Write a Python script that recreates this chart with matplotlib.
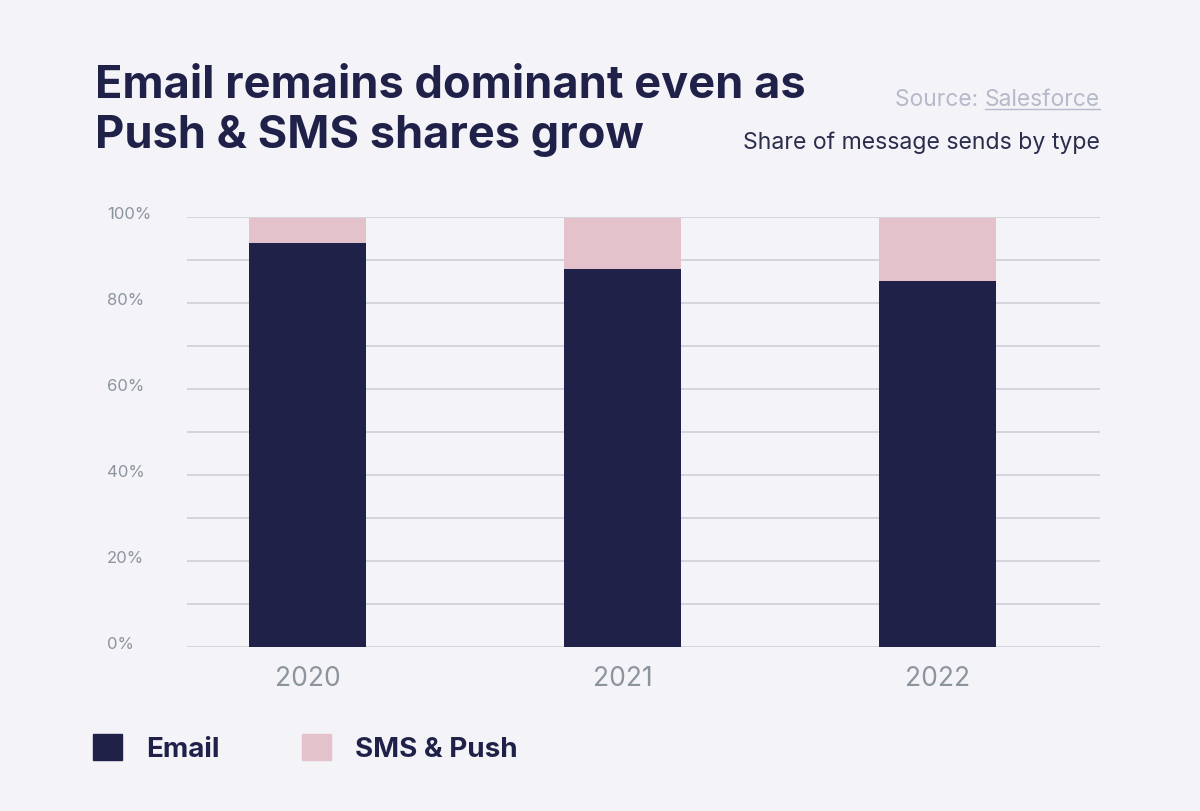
import matplotlib
matplotlib.use("Agg")
import matplotlib.pyplot as plt
from matplotlib.patches import Patch
from matplotlib.lines import Line2D
from matplotlib.transforms import ScaledTranslation

years = ["2020", "2021", "2022"]
email = [94.0, 88.0, 85.1]
sms_push = [5.8, 11.8, 14.7]
y_ticks = [0, 20, 40, 60, 80, 100]
y_tick_labels = ["0%", "20%", "40%", "60%", "80%", "100%"]

bg = "#f4f3f8"
navy = "#1f2149"
pink = "#e3c2cc"
grid_col = "#d1d2d9"
tick_col = "#8c949e"
src_col = "#b6b9c9"

plt.rcParams["font.family"] = ["Inter", "DejaVu Sans"]

fig = plt.figure(figsize=(12, 8.12), dpi=100, facecolor=bg)
ax = fig.add_axes([187 / 1200, 1 - 648 / 812, 913 / 1200, 430 / 812])
ax.set_facecolor(bg)

x = range(len(years))
ax.bar(x, email, width=0.372, color=navy, zorder=3)
ax.bar(x, sms_push, width=0.372, bottom=email, color=pink, zorder=3)

ax.set_xlim(-0.383, 2.516)
ax.set_ylim(0, 100)

ax.set_yticks(range(0, 101, 10), minor=True)
ax.set_yticks(y_ticks)
ax.set_yticklabels(y_tick_labels)
ax.grid(axis="y", which="both", color=grid_col, linewidth=1.3, zorder=0)
ax.tick_params(axis="y", which="both", length=0, pad=57.6,
               labelsize=12, labelcolor=tick_col)
for lab in ax.get_yticklabels():
    lab.set_horizontalalignment("left")
    lab.set_transform(lab.get_transform()
                      + ScaledTranslation(0, 0.05, fig.dpi_scale_trans))

ax.set_xticks(list(x))
ax.set_xticklabels(years)
ax.tick_params(axis="x", length=0, pad=13, labelsize=19, labelcolor=tick_col)

for s in ax.spines.values():
    s.set_visible(False)

fig.text(95 / 1200, 1 - 98 / 812, "Email remains dominant even as",
         fontsize=32.5, fontweight="bold", color=navy, va="baseline")
fig.text(95 / 1200, 1 - 148 / 812, "Push & SMS shares grow",
         fontsize=32.5, fontweight="bold", color=navy, va="baseline")

# source line, with "Salesforce" underlined
renderer = fig.canvas.get_renderer()
sf = fig.text(1100 / 1200, 1 - 106 / 812, "Salesforce", fontsize=16.4,
              color=src_col, ha="right", va="baseline")
bb = sf.get_window_extent(renderer)
fig.text(bb.x0 / 1200, 1 - 106 / 812, "Source: ", fontsize=16.4,
         color=src_col, ha="right", va="baseline")
uy = (812 - 109.5) / 812
fig.add_artist(Line2D([bb.x0 / 1200, bb.x1 / 1200], [uy, uy],
                      color=src_col, linewidth=1.0))

fig.text(1100 / 1200, 1 - 149 / 812, "Share of message sends by type",
         fontsize=16.6, color="#2a2d4c", ha="right", va="baseline")

handles = [Patch(color=navy, label="Email"), Patch(color=pink, label="SMS & Push")]
fig.legend(handles=handles, loc="center left",
           bbox_to_anchor=(93 / 1200, 1 - 749 / 812), ncol=2, frameon=False,
           prop={"size": 20, "weight": "bold"}, labelcolor=navy,
           handlelength=1.05, handleheight=1.05, handletextpad=0.87,
           columnspacing=2.95, borderaxespad=0, borderpad=0)

fig.savefig("out.png", dpi=100, facecolor=bg)
